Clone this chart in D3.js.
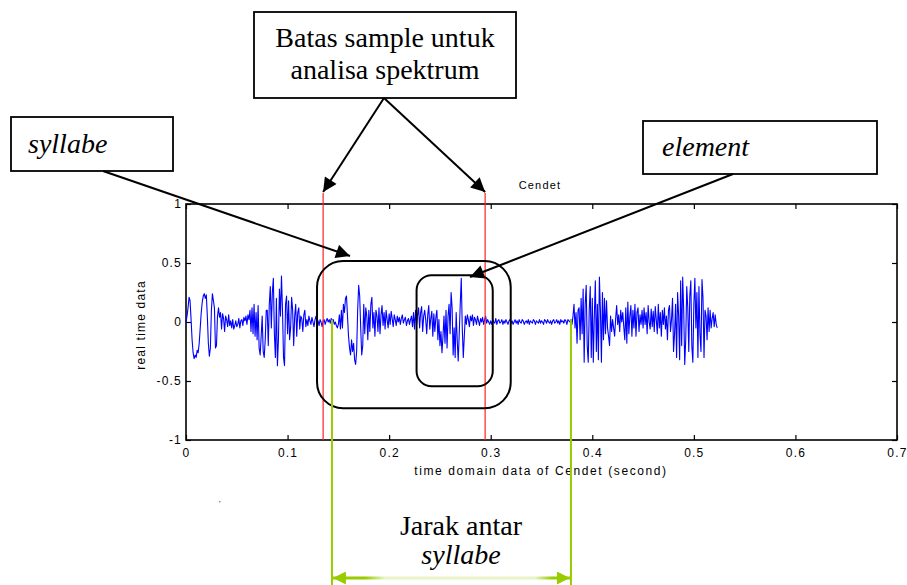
<!DOCTYPE html>
<html><head><meta charset="utf-8">
<script src="https://cdn.jsdelivr.net/npm/d3@7"></script>
<style>body{margin:0;background:#fff}svg{display:block}</style>
</head><body>
<svg id="c" width="907" height="585"></svg>
<script>
// sample spacing of the recording, seconds
const sampleInterval = 0.001;
// amplitude, one value per millisecond
const signal = [
 0.00, 0.05, 0.12, 0.21, 0.18, 0.02,-0.15,-0.26,-0.31,-0.28,
-0.30,-0.24,-0.26,-0.18,-0.05, 0.08, 0.17, 0.22, 0.24, 0.20,
 0.23, 0.05,-0.18,-0.29,-0.22, 0.10, 0.24, 0.18, 0.12,-0.22,
-0.20, 0.05, 0.12, 0.04, 0.08,-0.06, 0.07, 0.03,-0.08, 0.05,
 0.02,-0.04, 0.06,-0.03, 0.01,-0.05, 0.02,-0.06,-0.03, 0.01,
-0.04,-0.02, 0.03,-0.05, 0.01, 0.02,-0.03, 0.04, 0.01, 0.05,
-0.02, 0.06, 0.02, 0.10,-0.08, 0.12,-0.10, 0.15,-0.12, 0.08,
-0.15, 0.14,-0.22,-0.28,-0.12, 0.05,-0.25,-0.30,-0.15, 0.10,
 0.10,-0.20, 0.15, 0.30,-0.05, 0.25, 0.37,-0.10,-0.30, 0.20,
-0.37,-0.15, 0.28, 0.05, 0.39, 0.10,-0.30,-0.37, 0.15, 0.22,
-0.10, 0.18,-0.15,-0.05, 0.21, 0.10,-0.20, 0.05, 0.15,-0.12,
 0.08, 0.12,-0.06, 0.05, 0.03,-0.08, 0.06, 0.10,-0.04, 0.02,
-0.03, 0.05, 0.01,-0.02, 0.04, 0.00,-0.04, 0.02, 0.05,-0.01,
 0.01,-0.03, 0.02, 0.00,-0.04, 0.01, 0.02,-0.02, 0.01, 0.03,
 0.00, 0.02,-0.01, 0.03, 0.01, 0.02,-0.02, 0.00,-0.03,-0.05,
-0.02, 0.06,-0.06, 0.10,-0.05, 0.15, 0.08, 0.20, 0.22, 0.05,
-0.12,-0.22,-0.28,-0.15,-0.25,-0.18,-0.32,-0.36,-0.25, 0.10,
 0.31, 0.22,-0.05,-0.28,-0.20, 0.15,-0.10, 0.12, 0.05,-0.15,
 0.10,-0.08, 0.15, 0.21,-0.05, 0.08,-0.12, 0.10, 0.05,-0.08,
 0.12,-0.10, 0.06, 0.14,-0.03, 0.08,-0.06, 0.10, 0.02,-0.05,
 0.07,-0.02, 0.09, 0.03,-0.04, 0.06, 0.02,-0.03, 0.05, 0.00,
 0.04,-0.02, 0.03, 0.06,-0.01, 0.02, 0.04,-0.03, 0.01, 0.03,
-0.02, 0.02, 0.05,-0.04, 0.08,-0.06, 0.10,-0.02, 0.06, 0.12,
-0.05, 0.08, 0.13,-0.08, 0.05, 0.10, 0.02,-0.10, 0.06, 0.14,
-0.06, 0.03, 0.09,-0.12, 0.07,-0.08, 0.04, 0.10,-0.15, 0.02,
-0.20,-0.08,-0.26,-0.12, 0.05,-0.18, 0.10,-0.22, 0.05, 0.15,
-0.10, 0.25, 0.12,-0.28,-0.05,-0.30, 0.08,-0.15,-0.33,-0.10,
 0.15, 0.37,-0.05,-0.30,-0.12, 0.05,-0.02, 0.06, 0.02,-0.04,
 0.05, 0.01, 0.06,-0.03, 0.04, 0.02,-0.02, 0.05, 0.01,-0.03,
 0.03, 0.00, 0.04,-0.02, 0.02, 0.05,-0.01, 0.02, 0.00,-0.02,
 0.01,-0.02, 0.02, 0.00,-0.01, 0.03,-0.02, 0.01, 0.02,-0.01,
 0.00, 0.02,-0.02, 0.01,-0.01, 0.02, 0.00,-0.02, 0.01, 0.02,
-0.01, 0.01,-0.02, 0.00, 0.02,-0.01, 0.01,-0.02, 0.02, 0.00,
-0.01, 0.02, 0.01,-0.02, 0.00, 0.01,-0.01, 0.02,-0.02, 0.01,
 0.00,-0.01, 0.02, 0.01,-0.02, 0.01, 0.00,-0.01, 0.02,-0.01,
 0.01, 0.00,-0.02, 0.02, 0.01,-0.01, 0.02, 0.00,-0.01, 0.01,
-0.02, 0.01, 0.02,-0.01, 0.00, 0.02,-0.01, 0.01,-0.02, 0.02,
 0.00, 0.01,-0.01, 0.02, 0.01,-0.02, 0.02, 0.01, 0.00, 0.02,
-0.02, 0.05, 0.15,-0.05, 0.08,-0.18, 0.10, 0.12,-0.15, 0.20,
-0.10, 0.28,-0.34, 0.15, 0.31,-0.20,-0.34, 0.10, 0.30,-0.30,
 0.20,-0.34, 0.05, 0.35,-0.25, 0.15,-0.32, 0.38, 0.10,-0.34,
 0.25,-0.15, 0.20,-0.10, 0.18,-0.05,-0.12,-0.20, 0.05,-0.08,
 0.02,-0.05,-0.12, 0.03, 0.14,-0.02, 0.06,-0.08, 0.10, 0.00,
 0.08,-0.04,-0.15, 0.12,-0.18, 0.17,-0.10, 0.05, 0.14,-0.12,
 0.10,-0.05, 0.15,-0.12, 0.08, 0.12,-0.08, 0.06,-0.02, 0.10,
-0.05, 0.12,-0.02, 0.08,-0.10, 0.14, 0.00,-0.06, 0.11,-0.04,
 0.09,-0.08, 0.13, 0.02,-0.10, 0.15,-0.05, 0.08,-0.12, 0.10,
-0.02, 0.12,-0.06, 0.05,-0.15, 0.10, 0.14,-0.08, 0.02, 0.20,
-0.25,-0.10, 0.15,-0.30, 0.25, 0.05,-0.32, 0.35,-0.20, 0.38,
 0.10,-0.36,-0.15, 0.30, 0.12,-0.25, 0.22, 0.35,-0.20,-0.34,
 0.15, 0.37,-0.05, 0.25,-0.30, 0.30,-0.10,-0.25, 0.36, 0.20,
-0.30, 0.10, 0.05,-0.15, 0.12,-0.08, 0.10,-0.05, 0.03, 0.08,
-0.04, 0.06,-0.02,-0.05
];
const xDomain = [0, 0.7];
const yDomain = [-1, 1];
const xTickValues = [0, 0.1, 0.2, 0.3, 0.4, 0.5, 0.6, 0.7];
const xTickLabels = ["0", "0.1", "0.2", "0.3", "0.4", "0.5", "0.6", "0.7"];
const yTickValues = [-1, -0.5, 0, 0.5, 1];
const yTickLabels = ["-1", "-0.5", "0", "0.5", "1"];
const sampleBounds = [0.135, 0.2945];      // red lines (s)
const syllableStarts = [0.1437, 0.379];    // green lines (s)
const syllableBox = [0.129, 0.3197, 0.517, -0.731];  // t0,t1,v0,v1
const elementBox = [0.227, 0.302, 0.396, -0.545];
const titleText = "Cendet";
const xLabelText = "time domain data of Cendet (second)";
const yLabelText = "real time data";
const boxBatas = ["Batas sample untuk", "analisa spektrum"];
const boxSyllabe = "syllabe";
const boxElement = "element";
const distLabel = ["Jarak antar", "syllabe"];

const svg = d3.select("#c");
const x = d3.scaleLinear().domain(xDomain).range([186, 897]);
const y = d3.scaleLinear().domain(yDomain).range([440, 204]);
const sans = "'Liberation Sans', Arial, Helvetica, sans-serif";
const serif = "'Liberation Serif', 'Times New Roman', serif";
const green = "#99cc00";

const defs = svg.append("defs");
function marker(id, color, w, h) {
  defs.append("marker").attr("id", id).attr("viewBox", "0 0 10 10")
    .attr("refX", 10).attr("refY", 5).attr("markerUnits", "userSpaceOnUse")
    .attr("markerWidth", w).attr("markerHeight", h).attr("orient", "auto-start-reverse")
    .append("path").attr("d", "M0,0L10,5L0,10z").attr("fill", color);
}
marker("ab", "#000", 16, 14);
marker("ag", green, 16, 13);
const grad = defs.append("linearGradient").attr("id", "gg")
  .attr("gradientUnits", "userSpaceOnUse")
  .attr("x1", x(syllableStarts[0])).attr("x2", x(syllableStarts[1])).attr("y1", 0).attr("y2", 0);
[[0, green], [0.14, green], [0.22, "#e8f4c8"], [0.85, "#e8f4c8"], [0.92, green], [1, green]]
  .forEach(([o, c]) => grad.append("stop").attr("offset", o).attr("stop-color", c));

// axes box and ticks
const axB = d3.axisBottom(x).tickValues(xTickValues).tickSizeInner(-5).tickSizeOuter(0)
  .tickPadding(8).tickFormat((d, i) => xTickLabels[i]);
const axT = d3.axisTop(x).tickValues(xTickValues).tickSizeInner(-5).tickSizeOuter(0).tickFormat("");
const axL = d3.axisLeft(y).tickValues(yTickValues).tickSizeInner(-5).tickSizeOuter(0)
  .tickPadding(4).tickFormat((d, i) => yTickLabels[i]);
const axR = d3.axisRight(y).tickValues(yTickValues).tickSizeInner(-5).tickSizeOuter(0).tickFormat("");
function style(g) {
  g.select(".domain").remove();
  g.selectAll(".tick line").attr("stroke", "#000").attr("stroke-width", 1.2);
  g.selectAll(".tick text").attr("fill", "#000").attr("font-family", sans)
    .attr("font-size", 12).attr("letter-spacing", 1.2);
}
svg.append("g").attr("transform", "translate(0,440)").call(axB).call(style);
svg.append("g").attr("transform", "translate(0,204)").call(axT).call(style);
svg.append("g").attr("transform", "translate(186,0)").call(axL).call(style);
svg.append("g").attr("transform", "translate(897,0)").call(axR).call(style);
svg.append("rect").attr("x", x(xDomain[0])).attr("y", y(yDomain[1]))
  .attr("width", x(xDomain[1]) - x(xDomain[0])).attr("height", y(yDomain[0]) - y(yDomain[1]))
  .attr("fill", "none").attr("stroke", "#000").attr("stroke-width", 1.6);

// waveform
const line = d3.line().x((d, i) => x(i * sampleInterval)).y(d => y(d));
svg.append("path").datum(signal).attr("d", line).attr("fill", "none")
  .attr("stroke", "#0000ff").attr("stroke-width", 1.1).attr("stroke-linejoin", "round");

// labels
svg.append("text").attr("x", 540).attr("y", 189).attr("text-anchor", "middle")
  .attr("font-family", sans).attr("font-size", 11).attr("letter-spacing", 1.2).text(titleText);
svg.append("text").attr("x", 541).attr("y", 475).attr("text-anchor", "middle")
  .attr("font-family", sans).attr("font-size", 12).attr("letter-spacing", 1.6).text(xLabelText);
svg.append("text").attr("transform", "translate(145,325) rotate(-90)").attr("text-anchor", "middle")
  .attr("font-family", sans).attr("font-size", 12).attr("letter-spacing", 1.2).text(yLabelText);

// red sample bounds
svg.selectAll(".red").data(sampleBounds).join("line")
  .attr("x1", d => x(d)).attr("x2", d => x(d)).attr("y1", 193).attr("y2", y(yDomain[0]))
  .attr("stroke", "#ff2020").attr("stroke-width", 1.2);

// rounded boxes
[[syllableBox, 26], [elementBox, 15]].forEach(([b, r]) => {
  svg.append("rect").attr("x", x(b[0])).attr("y", y(b[2])).attr("width", x(b[1]) - x(b[0]))
    .attr("height", y(b[3]) - y(b[2])).attr("rx", r).attr("ry", r)
    .attr("fill", "none").attr("stroke", "#000").attr("stroke-width", 2);
});

// callout boxes
function callout(x0, y0, w, h) {
  svg.append("rect").attr("x", x0).attr("y", y0).attr("width", w).attr("height", h)
    .attr("fill", "#fff").attr("stroke", "#000").attr("stroke-width", 1.8);
}
callout(254, 12, 262, 86);
callout(11, 117, 162, 54);
callout(643, 121, 234, 53);
boxBatas.forEach((t, i) => svg.append("text").attr("x", 385).attr("y", 47 + i * 32)
  .attr("text-anchor", "middle").attr("font-family", serif).attr("font-size", 28).text(t));
svg.append("text").attr("x", 28).attr("y", 153).attr("font-family", serif)
  .attr("font-style", "italic").attr("font-size", 28).text(boxSyllabe);
svg.append("text").attr("x", 662).attr("y", 156).attr("font-family", serif)
  .attr("font-style", "italic").attr("font-size", 28).text(boxElement);

// arrows
function arrow(x1, y1, x2, y2) {
  svg.append("line").attr("x1", x1).attr("y1", y1).attr("x2", x2).attr("y2", y2)
    .attr("stroke", "#000").attr("stroke-width", 2).attr("marker-end", "url(#ab)");
}
sampleBounds.forEach(d => arrow(384, 98, x(d), 192));
arrow(103, 171, 350, 256);
arrow(733, 174, 470, 277);

// syllable distance
svg.selectAll(".grn").data(syllableStarts).join("line")
  .attr("x1", d => x(d)).attr("x2", d => x(d)).attr("y1", y(0.02)).attr("y2", 585)
  .attr("stroke", green).attr("stroke-width", 2);
svg.append("line").attr("x1", x(syllableStarts[0]) + 1).attr("x2", x(syllableStarts[1]) - 1)
  .attr("y1", 578).attr("y2", 578).attr("stroke", "url(#gg)").attr("stroke-width", 3)
  .attr("marker-start", "url(#ag)").attr("marker-end", "url(#ag)");
distLabel.forEach((t, i) => svg.append("text").attr("x", 461).attr("y", 535 + i * 29)
  .attr("text-anchor", "middle").attr("font-family", serif).attr("font-size", 28)
  .attr("font-style", i === 1 ? "italic" : "normal").text(t));
svg.append("text").attr("x", 219).attr("y", 506).attr("font-family", sans)
  .attr("font-size", 8).text("'");
</script>
</body></html>
